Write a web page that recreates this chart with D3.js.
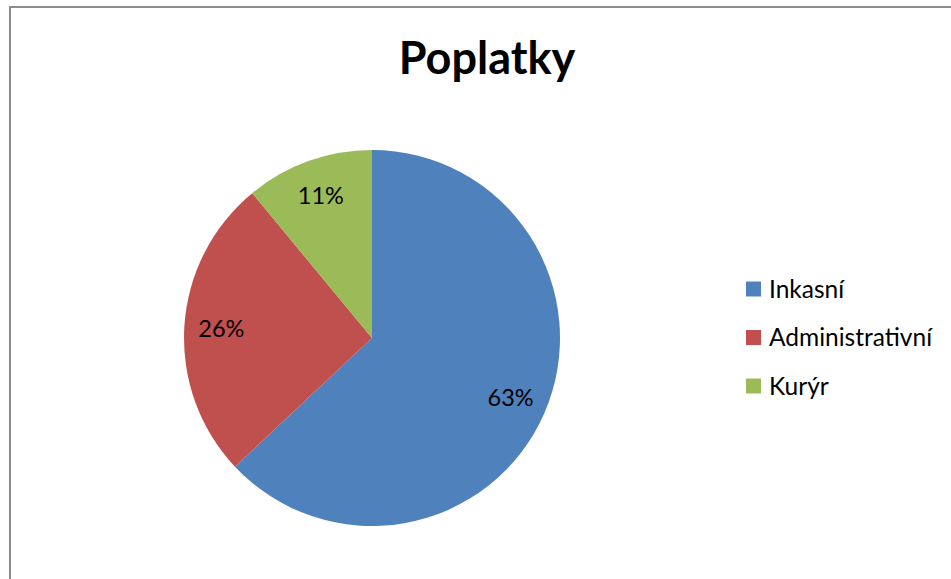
<!DOCTYPE html>
<html>
<head>
<meta charset="utf-8">
<script src="https://cdn.jsdelivr.net/npm/d3@7"></script>
<style>
  html, body { margin: 0; padding: 0; background: #fff; }
  svg { display: block; }
  text { font-family: Lato, "Open Sans", sans-serif; }
</style>
</head>
<body>
<svg id="chart" width="951" height="579"></svg>
<script>
const title = "Poplatky";
const categories = ["Inkasní", "Administrativní", "Kurýr"];
const values = [63, 26, 11];
const colors = ["#4F81BD", "#C0504D", "#9BBB59"];

const W = 951, H = 579;
const svg = d3.select("#chart");

// chart frame
svg.append("rect")
  .attr("x", 10).attr("y", 7)
  .attr("width", 1000).attr("height", 700)
  .attr("fill", "#fff")
  .attr("stroke", "#8c8c8c")
  .attr("stroke-width", 2);

svg.append("text")
  .attr("x", 487).attr("y", 74)
  .attr("text-anchor", "middle")
  .attr("font-weight", "bold")
  .attr("font-size", 45)
  .attr("fill", "#000")
  .text(title);

const cx = 372, cy = 338, r = 188;
const pie = d3.pie().sort(null).value(d => d.v);
const data = pie(categories.map((c, i) => ({ c, v: values[i], col: colors[i] })));
const arc = d3.arc().innerRadius(0).outerRadius(r);
const labelArc = d3.arc().innerRadius(151).outerRadius(151);
const total = d3.sum(values);

const g = svg.append("g").attr("transform", `translate(${cx},${cy})`);
g.selectAll("path").data(data).join("path")
  .attr("d", arc)
  .attr("fill", d => d.data.col);

g.selectAll("text").data(data).join("text")
  .attr("transform", d => `translate(${labelArc.centroid(d)})`)
  .attr("text-anchor", "middle")
  .attr("dy", "0.36em")
  .attr("font-size", 23.5)
  .attr("fill", "#000")
  .text(d => Math.round(d.data.v / total * 100) + "%");

// legend
const ly = d3.scalePoint().domain(categories).range([289, 386]);
const lg = svg.append("g");
const items = lg.selectAll("g").data(categories).join("g")
  .attr("transform", d => `translate(746,${ly(d)})`);
items.append("rect")
  .attr("x", 0).attr("y", -7.5)
  .attr("width", 15).attr("height", 15)
  .attr("fill", (d, i) => colors[i]);
items.append("text")
  .attr("x", 23).attr("dy", "0.36em")
  .attr("font-size", 24.5)
  .attr("fill", "#000")
  .text(d => d);
</script>
</body>
</html>
